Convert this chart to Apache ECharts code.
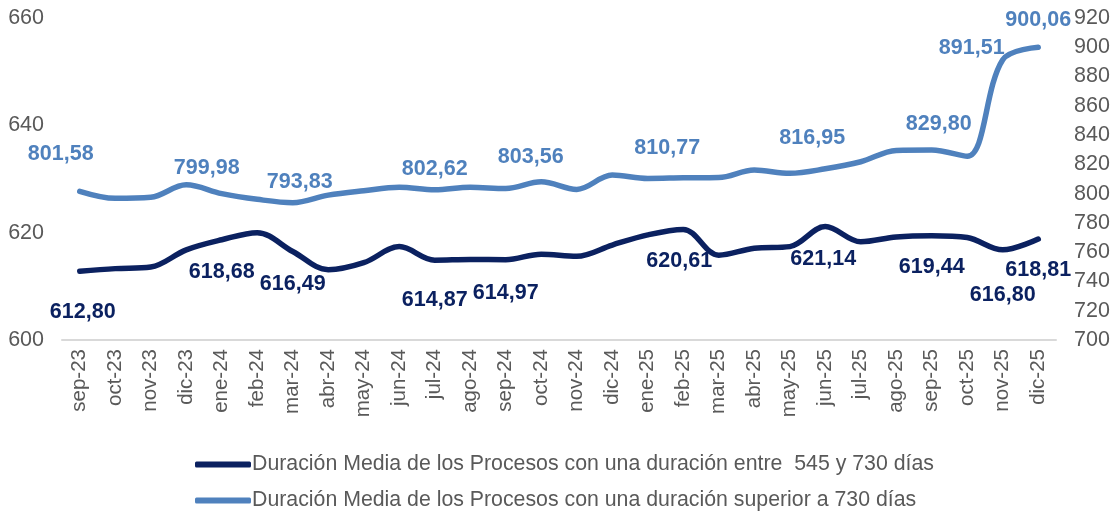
<!DOCTYPE html>
<html>
<head>
<meta charset="utf-8">
<script src="https://cdn.jsdelivr.net/npm/echarts@6/dist/echarts.min.js"></script>
<style>
html,body{margin:0;padding:0;background:#fff;}
#chart{width:1118px;height:518px;}
</style>
</head>
<body>
<div id="chart"></div>
<script>
const categories = ['sep-23','oct-23','nov-23','dic-23','ene-24','feb-24','mar-24','abr-24','may-24','jun-24','jul-24','ago-24','sep-24','oct-24','nov-24','dic-24','ene-25','feb-25','mar-25','abr-25','may-25','jun-25','jul-25','ago-25','sep-25','oct-25','nov-25','dic-25'];
const seriesNames = ['Duración Media de los Procesos con una duración entre  545 y 730 días','Duración Media de los Procesos con una duración superior a 730 días'];
const entre545y730 = [612.80,613.3,613.6,616.8,618.68,620.0,616.49,613.1,614.4,617.4,614.87,615.0,614.97,616.0,615.6,617.7,619.6,620.61,615.8,617.1,617.4,621.14,618.3,619.2,619.44,619.1,616.80,618.81];
const superior730 = [801.58,796.8,797.5,806.0,799.98,796.1,793.83,799.0,802.0,804.3,802.62,804.3,803.56,808.1,802.9,812.7,810.4,810.77,811.0,816.1,813.9,816.95,821.8,829.5,829.80,825.5,891.51,900.06];
const labeledMonths = ['sep-23','ene-24','mar-24','jul-24','sep-24','feb-25','jun-25','sep-25','nov-25','dic-25'];
const leftTicks = {min:600, max:660, interval:20};
const rightTicks = {min:700, max:920, interval:20};

// label placement (styling only)
const darkOffsets = {'sep-23':[3,41],'ene-24':[0,32],'mar-24':[0,33],'jul-24':[0,40],'sep-24':[0,33],'feb-25':[-4,32],'jun-25':[-2,33],'sep-25':[0,31],'nov-25':[0,45],'dic-25':[0,31]};
const lightOffsets = {'sep-23':[-19,-37],'ene-24':[-15,-26],'mar-24':[7,-21],'jul-24':[0,-21],'sep-24':[25,-31],'feb-25':[-16,-30],'jun-25':[-13,-31],'sep-25':[7,-26],'nov-25':[-31,-12],'dic-25':[0,-27]};

const DARK = '#0b2160', LIGHT = '#4f81bd', GRAY = '#595959';
const FONT = "'Liberation Sans', Arial, sans-serif";

function buildData(values, offsets, color) {
  return values.map((v, i) => {
    const c = categories[i];
    if (labeledMonths.indexOf(c) >= 0) {
      return {value: v, label: {show: true, position: 'inside', offset: offsets[c],
        formatter: p => p.value.toFixed(2).replace('.', ','),
        color: color, fontFamily: FONT, fontWeight: 'bold', fontSize: 21.5}};
    }
    return {value: v};
  });
}

const legendText = {color: GRAY, fontFamily: FONT, fontSize: 21.3, padding: [0,0,0,-4]};

const chart = echarts.init(document.getElementById('chart'));
chart.setOption({
  animation: false,
  backgroundColor: '#fff',
  grid: {left: 62, right: 62, top: 18, bottom: 178, containLabel: false},
  legend: [
    {orient: 'horizontal', left: 190, top: 449, itemWidth: 56, itemHeight: 6, icon: 'roundRect',
     textStyle: legendText, data: [seriesNames[0]]},
    {orient: 'horizontal', left: 190, top: 485, itemWidth: 56, itemHeight: 6, icon: 'roundRect',
     textStyle: legendText, data: [seriesNames[1]]}
  ],
  xAxis: {
    type: 'category', data: categories, boundaryGap: true,
    axisLine: {lineStyle: {color: '#d9d9d9', width: 2}},
    axisTick: {show: false},
    axisLabel: {rotate: 90, color: GRAY, fontFamily: FONT, fontSize: 20.5, margin: 9, interval: 0}
  },
  yAxis: [
    {type: 'value', min: leftTicks.min, max: leftTicks.max, interval: leftTicks.interval,
     splitLine: {show: false}, axisLine: {show: false}, axisTick: {show: false},
     axisLabel: {color: GRAY, fontFamily: FONT, fontSize: 21.5, margin: 18}},
    {type: 'value', min: rightTicks.min, max: rightTicks.max, interval: rightTicks.interval,
     splitLine: {show: false}, axisLine: {show: false}, axisTick: {show: false},
     axisLabel: {color: GRAY, fontFamily: FONT, fontSize: 21.5, margin: 18}}
  ],
  series: [
    {name: seriesNames[0], type: 'line', yAxisIndex: 0, smooth: 0.35,
     data: buildData(entre545y730, darkOffsets, DARK),
     symbol: 'circle', symbolSize: 1, showSymbol: true,
     lineStyle: {color: DARK, width: 5.5, cap: 'round'}, itemStyle: {color: DARK}},
    {name: seriesNames[1], type: 'line', yAxisIndex: 1, smooth: 0.35,
     data: buildData(superior730, lightOffsets, LIGHT),
     symbol: 'circle', symbolSize: 1, showSymbol: true,
     lineStyle: {color: LIGHT, width: 5.5, cap: 'round'}, itemStyle: {color: LIGHT}}
  ]
});
</script>
</body>
</html>
